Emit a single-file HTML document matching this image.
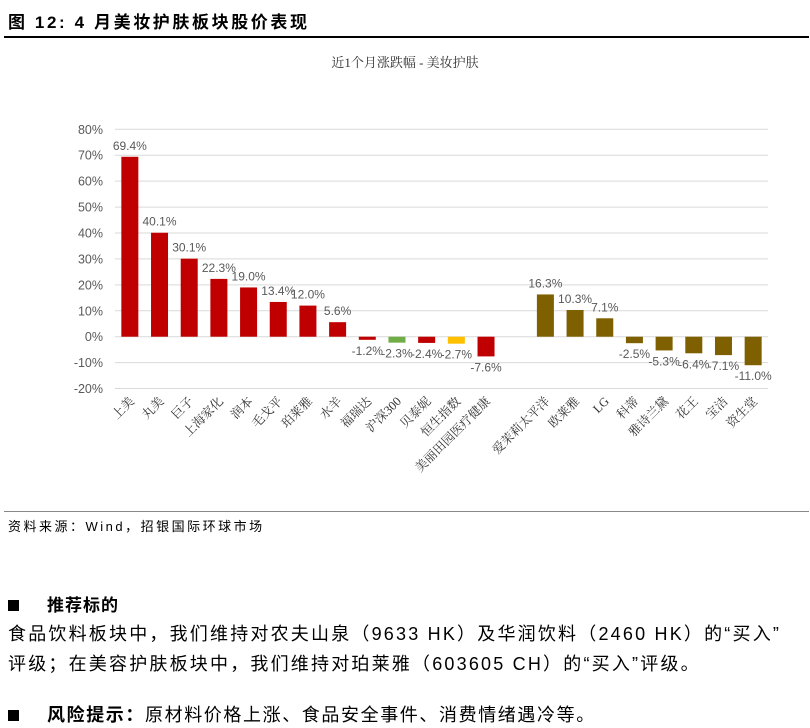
<!DOCTYPE html>
<html><head><meta charset="utf-8">
<style>
body{margin:0;background:#fff;width:810px;height:728px;overflow:hidden;position:relative;font-family:"Liberation Sans","Noto Sans CJK SC",sans-serif;color:#000}
.abs{position:absolute;white-space:nowrap}
</style></head><body>
<div class="abs" style="left:8px;top:8px;font-size:17px;font-weight:bold;letter-spacing:2.6px">图 12: 4 月美妆护肤板块股价表现</div>
<div class="abs" style="left:4px;top:36px;width:805px;height:2px;background:#000"></div>
<svg class="abs" style="left:0;top:0" width="810" height="510">
<text x="405" y="67" text-anchor="middle" font-size="13" font-family="'Liberation Serif','Noto Serif CJK SC',serif" fill="#333">近1个月涨跌幅 - 美妆护肤</text>
<g id="grid"></g><g id="bars"></g><g id="labels"></g>
</svg>
<div class="abs" style="left:4px;top:511px;width:805px;height:1px;background:#888"></div>
<div class="abs" style="left:8px;top:516px;font-size:13px;letter-spacing:2.5px">资料来源：Wind，招银国际环球市场</div>
<div class="abs" style="left:8px;top:591px;font-size:17px;font-weight:bold;letter-spacing:1px"><span style="display:inline-block;width:11px;height:11px;background:#000;margin-right:28px"></span>推荐标的</div>
<div class="abs" style="left:8px;top:619px;font-size:18px;line-height:30px;letter-spacing:2.2px">食品饮料板块中，我们维持对农夫山泉（9633 HK）及华润饮料（2460 HK）的“买入”<br>评级；在美容护肤板块中，我们维持对珀莱雅（603605 CH）的“买入”评级。</div>
<div class="abs" style="left:8px;top:701px;font-size:18px;letter-spacing:1.6px"><span style="display:inline-block;width:11px;height:11px;background:#000;margin-right:28px"></span><b>风险提示：</b>原材料价格上涨、食品安全事件、消费情绪遇冷等。</div>
<script>
const categories=["上美","丸美","巨子","上海家化","润本","毛戈平","珀莱雅","水羊","福瑞达","沪深300","贝泰妮","恒生指数","美丽田园医疗健康","","爱茉莉太平洋","欧莱雅","LG","科蒂","雅诗兰黛","花王","宝洁","资生堂"];
const values=[69.4,40.1,30.1,22.3,19.0,13.4,12.0,5.6,-1.2,-2.3,-2.4,-2.7,-7.6,null,16.3,10.3,7.1,-2.5,-5.3,-6.4,-7.1,-11.0];
const groups=["r","r","r","r","r","r","r","r","r","g","r","y","r","","b","b","b","b","b","b","b","b"];
const yTicks=[80,70,60,50,40,30,20,10,0,-10,-20];
const colors={r:"#C00000",g:"#70AD47",y:"#FFC000",b:"#7F6000"};
const NS="http://www.w3.org/2000/svg";
const x0=115,x1=768,slot=(x1-x0)/categories.length;
const y=v=>336.7-v*2.5925;
const xc=i=>x0+slot*(i+0.5);
function mk(t,a,p){const e=document.createElementNS(NS,t);for(const k in a)e.setAttribute(k,a[k]);p.appendChild(e);return e;}
const grid=document.getElementById('grid'),bars=document.getElementById('bars'),labels=document.getElementById('labels');
yTicks.forEach(t=>{
  const l=mk('line',{x1:x0,x2:x1,y1:y(t),y2:y(t),stroke:'#d9d9d9','stroke-width':1},grid);
  
  
  const tx=mk('text',{x:103,y:y(t)+4.5,'text-anchor':'end','font-size':12.5,fill:'#595959'},grid);
  tx.textContent=t+'%';
  
  
});
values.forEach((v,i)=>{
  if(v===null)return;
  const bw=17,top=Math.min(y(v),y(0)),h=Math.abs(y(v)-y(0));
  const r=mk('rect',{x:xc(i)-bw/2,y:top,width:bw,height:h,fill:colors[groups[i]]},bars);
  
  
  const t=mk('text',{x:xc(i),y:v>=0?y(v)-7:y(v)+15,'text-anchor':'middle','font-size':12,fill:'#595959'},labels);
  t.textContent=v.toFixed(1)+'%';
  
  
});
categories.forEach((c,i)=>{
  if(!c)return;
  const cx=xc(i)+5,cy=402;
  const t=mk('text',{x:cx,y:cy,'text-anchor':'end','font-size':12.5,fill:'#333','font-family':"'Liberation Serif','Noto Serif CJK SC',serif",transform:`rotate(-45 ${cx} ${cy})`},labels);
  t.textContent=c;
  
  
});
</script>
</body></html>
